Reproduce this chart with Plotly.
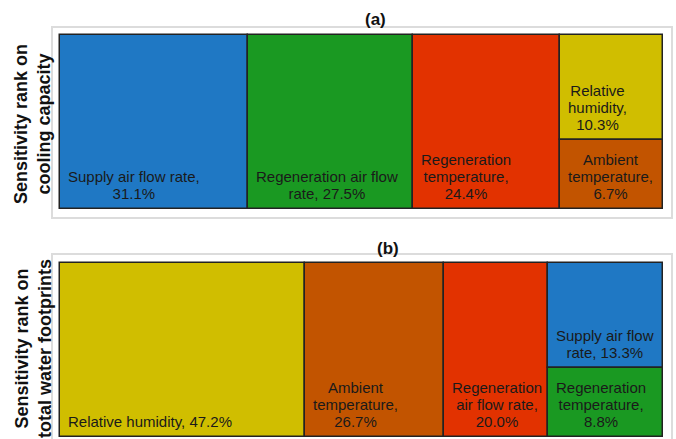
import plotly.graph_objects as go

# ---- (a) sensitivity rank on cooling capacity ----
cooling_params = ["Supply air flow rate", "Regeneration air flow rate",
                  "Regeneration temperature", "Relative humidity",
                  "Ambient temperature"]
cooling_share = [31.1, 27.5, 24.4, 10.3, 6.7]
cooling_labels = ["Supply air flow rate,<br>{v}", "Regeneration air flow<br>rate, {v}",
                  "Regeneration<br>temperature,<br>{v}", "Relative<br>humidity,<br>{v}",
                  "Ambient<br>temperature,<br>{v}"]
cooling_colors = ["#1f78c4", "#1a9922", "#e23200", "#d0be00", "#c25400"]
cooling_columns = [[0], [1], [2], [3, 4]]

# ---- (b) sensitivity rank on total water footprints ----
water_params = ["Relative humidity", "Ambient temperature",
                "Regeneration air flow rate", "Supply air flow rate",
                "Regeneration temperature"]
water_share = [47.2, 26.7, 20.0, 13.3, 8.8]
water_labels = ["Relative humidity, {v}", "Ambient<br>temperature,<br>{v}",
                "Regeneration<br>air flow rate,<br>{v}", "Supply air flow<br>rate, {v}",
                "Regeneration<br>temperature,<br>{v}"]
water_colors = ["#d0be00", "#c25400", "#e23200", "#1f78c4", "#1a9922"]
water_columns = [[0], [1], [2], [3, 4]]

W, H = 676, 439
FONT = "Liberation Sans, Arial, sans-serif"


def tiles(values, columns):
    """Slice-and-dice layout: column width = summed share, stacked items split the height."""
    out = {}
    left = 0.0
    for col in columns:
        colsum = sum(values[i] for i in col)
        top = 1.0
        for i in col:
            h = values[i] / colsum
            out[i] = (left, colsum, top - h, h)
            top -= h
        left += colsum
    return [out[i] for i in range(len(values))]


fig = go.Figure()

panels = [
    dict(params=cooling_params, share=cooling_share, labels=cooling_labels,
         colors=cooling_colors, columns=cooling_columns, xa="x", ya="y",
         ydom=[1 - 218 / H, 1 - 27 / H], yrange=[-9 / 174, 1 + 8 / 174]),
    dict(params=water_params, share=water_share, labels=water_labels,
         colors=water_colors, columns=water_columns, xa="x2", ya="y2",
         ydom=[0, 1 - 254 / H], yrange=[-2 / 174, 1 + 9 / 174]),
]

annotations = []
shapes = []
for k, p in enumerate(panels):
    t = tiles(p["share"], p["columns"])
    total = sum(p["share"])
    fig.add_trace(go.Bar(
        x=[x0 + w / 2 for x0, w, y0, h in t],
        width=[w for x0, w, y0, h in t],
        base=[y0 for x0, w, y0, h in t],
        y=[h for x0, w, y0, h in t],
        marker=dict(color=p["colors"], line=dict(color="#222222", width=1.5)),
        hovertext=p["params"], hoverinfo="text",
        xaxis=p["xa"], yaxis=p["ya"], showlegend=False,
    ))
    for (x0, w, y0, h), lab, v in zip(t, p["labels"], p["share"]):
        txt = lab.format(v=f"{v:.1f}%")
        annotations.append(dict(
            x=x0, y=y0, xref=p["xa"], yref=p["ya"],
            xanchor="left", yanchor="bottom", xshift=6, yshift=5,
            align="center", showarrow=False,
            text=f"<span style='font-size:15px'>{txt}</span>",
            font=dict(family=FONT, size=13, color="#1a1a1a"),
        ))
    xkey = "xaxis" if k == 0 else "xaxis2"
    ykey = "yaxis" if k == 0 else "yaxis2"
    fig.layout[xkey] = dict(domain=[52 / W, 672 / W],
                            range=[-8 / 603 * total, total + 9 / 603 * total],
                            visible=False, fixedrange=True,
                            anchor=p["ya"])
    fig.layout[ykey] = dict(domain=p["ydom"], range=p["yrange"],
                            visible=False, fixedrange=True, anchor=p["xa"])
    # light frame around each panel
    y_bottom = 0 if k == 0 else -7 / 185
    shapes.append(dict(type="rect", xref=f"{p['xa']} domain", yref=f"{p['ya']} domain",
                       x0=0, x1=1, y0=y_bottom, y1=1,
                       line=dict(color="#dcdcdc", width=2), layer="below"))

# panel titles
annotations.append(dict(x=376 / W, y=1 - 20 / H, xref="paper", yref="paper",
                        text="<b>(a)</b>", showarrow=False, xanchor="center", yanchor="middle",
                        font=dict(family=FONT, size=17, color="#111111")))
annotations.append(dict(x=388 / W, y=1 - 248 / H, xref="paper", yref="paper",
                        text="<b>(b)</b>", showarrow=False, xanchor="center", yanchor="middle",
                        font=dict(family=FONT, size=17, color="#111111")))

# rotated side titles
annotations.append(dict(x=33 / W, y=1 - 124 / H, xref="paper", yref="paper",
                        text="<b>Sensitivity rank on<br>cooling capacity</b>",
                        textangle=-90, showarrow=False, xanchor="center", yanchor="middle",
                        font=dict(family=FONT, size=18, color="#111111")))
annotations.append(dict(x=33 / W, y=1 - 349 / H, xref="paper", yref="paper",
                        text="<b>Sensitivity rank on<br>total water footprints</b>",
                        textangle=-90, showarrow=False, xanchor="center", yanchor="middle",
                        font=dict(family=FONT, size=18, color="#111111")))

fig.update_layout(
    width=W, height=H,
    margin=dict(l=0, r=0, t=0, b=0),
    paper_bgcolor="white", plot_bgcolor="white",
    barmode="overlay", bargap=0,
    annotations=annotations, shapes=shapes,
    font=dict(family=FONT),
)

fig.write_html("out.html")
